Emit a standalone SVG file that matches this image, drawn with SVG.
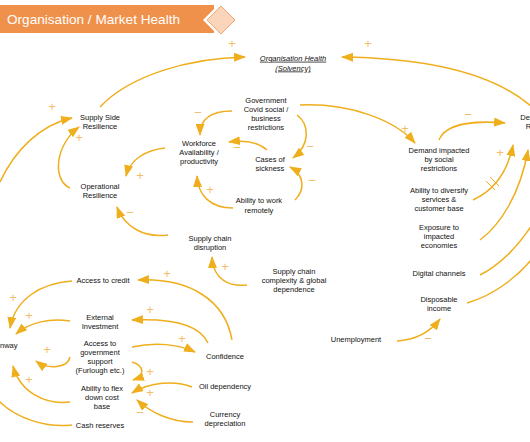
<svg xmlns="http://www.w3.org/2000/svg" width="530" height="442" viewBox="0 0 530 442">
<defs>
<marker id="ah" markerUnits="userSpaceOnUse" markerWidth="13" markerHeight="9" refX="11" refY="4.5" orient="auto">
<path d="M0,0 L12,4.5 L0,9 z" fill="#EFAE1C"/>
</marker>
<style>
.lbl{font-family:"Liberation Sans",Arial,sans-serif;font-size:7.5px;fill:#111111;text-anchor:middle}
.c{fill:none;stroke:#EFAE1C;stroke-width:1.5;marker-end:url(#ah)}
.cn{fill:none;stroke:#EFAE1C;stroke-width:1.5}
.s{font-family:"Liberation Sans",Arial,sans-serif;font-size:13px;fill:#F5BD6A;text-anchor:middle}
</style>
</defs>
<rect width="530" height="442" fill="#ffffff"/>
<g id="title">
<rect x="0" y="5" width="214" height="28" fill="#F0914B"/>
<polygon points="221,2 239,20 221,38 203,20" fill="#ffffff"/>
<polygon points="221,6 235,20 221,34 207,20" fill="#FBD5BA" stroke="#F2A874" stroke-width="1"/>
<text x="7" y="24" font-family="'Liberation Sans',Arial,sans-serif" font-size="13.6" fill="#ffffff">Organisation / Market Health</text>
</g>
<g id="connectors">
<path class="c" d="M100,107 C130,75 190,58 245,57"/>
<path class="c" d="M532,107 C490,70 420,58 342,57"/>
<path class="c" d="M300,105 C350,103 395,120 415,143"/>
<path class="c" d="M232,111 C212,111 200,118 200,135"/>
<path class="c" d="M297,115 C310,125 310,145 293,158"/>
<path class="c" d="M267,150 C258,142 245,140 229,142"/>
<path class="c" d="M295,200 C305,190 305,175 290,167"/>
<path class="c" d="M233,208 C210,208 198,195 197,176"/>
<path class="c" d="M165,148 C145,150 130,160 126,176"/>
<path class="c" d="M70,188 C52,180 55,145 79,127"/>
<path class="c" d="M0,182 C15,150 40,125 72,118"/>
<path class="c" d="M168,235 C145,238 125,228 117,207"/>
<path class="c" d="M247,285 C230,287 213,280 212,257"/>
<path class="c" d="M232,340 C225,300 190,278 138,280"/>
<path class="c" d="M208,343 C200,325 175,318 132,320"/>
<path class="c" d="M132,347 C155,342 178,344 195,352"/>
<path class="c" d="M72,281 C40,283 15,300 10,328"/>
<path class="c" d="M70,321 C50,318 30,322 16,334"/>
<path class="c" d="M70,357 C68,368 48,370 36,361"/>
<path class="c" d="M70,402 C45,405 20,392 13,366"/>
<path class="cn" d="M72,425 C45,428 15,418 -2,400"/>
<path class="c" d="M132,362 C145,366 145,376 133,380"/>
<path class="c" d="M192,387 C175,380 150,382 132,393"/>
<path class="c" d="M193,422 C170,422 150,412 137,400"/>
<path class="c" d="M397,341 C415,340 430,332 440,319"/>
<path class="c" d="M439,140 C445,125 470,120 505,123"/>
<path class="c" d="M473,200 C495,190 508,170 513,145"/>
<path class="c" d="M480,240 C500,225 520,195 528,150"/>
<path class="cn" d="M480,275 C500,265 520,245 535,220"/>
<path class="cn" d="M467,303 C495,295 520,275 535,255"/>
<line x1="486" y1="181" x2="495" y2="190" stroke="#EFAE1C" stroke-width="1"/>
<line x1="490" y1="177" x2="499" y2="186" stroke="#EFAE1C" stroke-width="1"/>
</g>
<g id="signs">
<text class="s" x="232" y="48">+</text>
<text class="s" x="368" y="48">+</text>
<text class="s" x="405" y="133">+</text>
<text class="s" x="198" y="117">−</text>
<text class="s" x="310" y="151">−</text>
<text class="s" x="237" y="152">−</text>
<text class="s" x="312" y="185">−</text>
<text class="s" x="210" y="194">+</text>
<text class="s" x="140" y="180">+</text>
<text class="s" x="79" y="142">+</text>
<text class="s" x="52" y="111">+</text>
<text class="s" x="130" y="217">−</text>
<text class="s" x="225" y="271">+</text>
<text class="s" x="167" y="278">+</text>
<text class="s" x="150" y="314">+</text>
<text class="s" x="182" y="343">+</text>
<text class="s" x="13" y="302">+</text>
<text class="s" x="29" y="320">+</text>
<text class="s" x="47" y="354">+</text>
<text class="s" x="29" y="384">+</text>
<text class="s" x="150" y="376">+</text>
<text class="s" x="150" y="397">+</text>
<text class="s" x="140" y="417">−</text>
<text class="s" x="428" y="343">−</text>
<text class="s" x="468" y="119">−</text>
<text class="s" x="500" y="157">+</text>
</g>
<g id="n-orghealth"><text class="lbl" x="293" font-style="italic" text-decoration="underline"><tspan x="293" y="60.7">Organisation Health</tspan><tspan x="293" y="70.5">(Solvency)</tspan></text></g>
<g id="n-gov"><text class="lbl"><tspan x="266" y="102.7">Government</tspan><tspan x="266" y="112">Covid social /</tspan><tspan x="266" y="121">business</tspan><tspan x="266" y="130">restrictions</tspan></text></g>
<g id="n-workforce"><text class="lbl"><tspan x="199" y="146">Workforce</tspan><tspan x="199" y="155.3">Availability /</tspan><tspan x="199" y="164.3">productivity</tspan></text></g>
<g id="n-cases"><text class="lbl"><tspan x="270" y="162">Cases of</tspan><tspan x="270" y="171.3">sickness</tspan></text></g>
<g id="n-remote"><text class="lbl"><tspan x="259" y="203.3">Ability to work</tspan><tspan x="259" y="212.7">remotely</tspan></text></g>
<g id="n-ssr"><text class="lbl"><tspan x="100" y="120">Supply Side</tspan><tspan x="100" y="129.3">Resilience</tspan></text></g>
<g id="n-opr"><text class="lbl"><tspan x="100" y="188.7">Operational</tspan><tspan x="100" y="198">Resilience</tspan></text></g>
<g id="n-scd"><text class="lbl"><tspan x="210" y="241">Supply chain</tspan><tspan x="210" y="249.7">disruption</tspan></text></g>
<g id="n-scc"><text class="lbl"><tspan x="294" y="273.7">Supply chain</tspan><tspan x="294" y="283">complexity &amp; global</tspan><tspan x="294" y="292">dependence</tspan></text></g>
<g id="n-demimp"><text class="lbl"><tspan x="439" y="153.3">Demand impacted</tspan><tspan x="439" y="162.3">by social</tspan><tspan x="439" y="171.3">restrictions</tspan></text></g>
<g id="n-diversify"><text class="lbl"><tspan x="439" y="192.7">Ability to diversify</tspan><tspan x="439" y="202">services &amp;</tspan><tspan x="439" y="211.3">customer base</tspan></text></g>
<g id="n-exposure"><text class="lbl"><tspan x="439" y="230">Exposure to</tspan><tspan x="439" y="239.3">impacted</tspan><tspan x="439" y="248.3">economies</tspan></text></g>
<g id="n-digital"><text class="lbl" x="439" y="276">Digital channels</text></g>
<g id="n-disposable"><text class="lbl"><tspan x="439" y="302">Disposable</tspan><tspan x="439" y="311">income</tspan></text></g>
<g id="n-unemployment"><text class="lbl" x="356" y="341.7">Unemployment</text></g>
<g id="n-dsr"><text class="lbl"><tspan x="543" y="120">Demand Side</tspan><tspan x="543" y="128.7">Resilience</tspan></text></g>
<g id="n-runway"><text class="lbl" x="17.5" y="347.7" style="text-anchor:end">Runway</text></g>
<g id="n-credit"><text class="lbl" x="103" y="282.7">Access to credit</text></g>
<g id="n-extinv"><text class="lbl"><tspan x="100" y="320">External</tspan><tspan x="100" y="329.3">Investment</tspan></text></g>
<g id="n-govsupport"><text class="lbl"><tspan x="100" y="346">Access to</tspan><tspan x="100" y="355.3">government</tspan><tspan x="100" y="364.3">support</tspan><tspan x="100" y="373.3">(Furlough etc.)</tspan></text></g>
<g id="n-flex"><text class="lbl"><tspan x="102" y="390.7">Ability to flex</tspan><tspan x="102" y="399.7">down cost</tspan><tspan x="102" y="408.7">base</tspan></text></g>
<g id="n-cash"><text class="lbl" x="100" y="427.7">Cash reserves</text></g>
<g id="n-confidence"><text class="lbl" x="225" y="358.7">Confidence</text></g>
<g id="n-oil"><text class="lbl" x="225" y="388.7">Oil dependency</text></g>
<g id="n-currency"><text class="lbl"><tspan x="225" y="416.7">Currency</tspan><tspan x="225" y="425.7">depreciation</tspan></text></g>
</svg>
